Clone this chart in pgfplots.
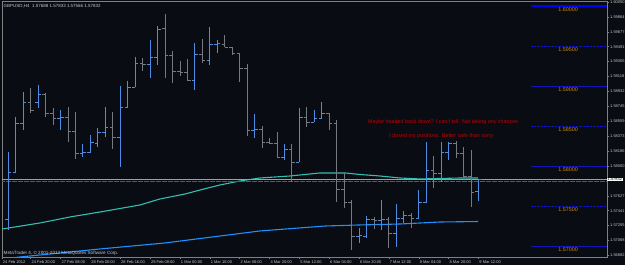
\documentclass[border=0pt]{standalone}
\usepackage{pgfplots}
\pgfplotsset{compat=1.18}
\usepackage{pgfplotstable}
\usepackage{fontspec}
\setmainfont{Liberation Sans}
\definecolor{bg}{RGB}{9,12,18}
\definecolor{upc}{RGB}{78,140,228}
\definecolor{dnc}{RGB}{118,122,128}
\definecolor{maA}{RGB}{52,190,176}
\definecolor{maB}{RGB}{30,144,255}
\definecolor{lvl}{RGB}{20,20,190}
\definecolor{lvlb}{RGB}{0,0,255}
\definecolor{orng}{RGB}{204,136,20}
\definecolor{txt}{RGB}{200,200,200}
\definecolor{redt}{RGB}{200,0,0}
\definecolor{frm}{RGB}{128,128,128}

\pgfplotstableread{
x o h l c
0 1.57338 1.58175 1.57200 1.57925
1 1.57925 1.58613 1.57925 1.58538
2 1.58538 1.58925 1.58450 1.58800
4 1.58800 1.59013 1.58725 1.58900
7 1.58600 1.58700 1.58450 1.58613
10 1.58163 1.58275 1.58113 1.58175
11 1.58175 1.58388 1.58163 1.58300
12 1.58288 1.58475 1.58238 1.58425
13 1.58425 1.58738 1.58363 1.58488
15 1.58363 1.59000 1.57988 1.58738
16 1.58738 1.59063 1.58725 1.58988
17 1.58988 1.59363 1.58988 1.59288
19 1.59275 1.59575 1.59100 1.59363
20 1.59363 1.59750 1.59263 1.59713
25 1.59075 1.59538 1.58950 1.59400
27 1.59325 1.59738 1.59263 1.59525
28 1.59525 1.59575 1.59413 1.59531
33 1.58450 1.58650 1.58350 1.58463
37 1.58113 1.58275 1.58075 1.58213
39 1.58050 1.58725 1.58050 1.58613
41 1.58550 1.58700 1.58550 1.58600
42 1.58600 1.58800 1.58600 1.58663
47 1.57125 1.57225 1.57038 1.57131
48 1.57125 1.57375 1.57100 1.57338
50 1.57325 1.57575 1.57200 1.57338
52 1.57163 1.57525 1.56988 1.57350
53 1.57350 1.57438 1.57288 1.57388
55 1.57350 1.57700 1.57350 1.57550
56 1.57550 1.58300 1.57538 1.57950
58 1.57913 1.58300 1.57800 1.58175
59 1.58175 1.58300 1.58075 1.58288
63 1.57688 1.57833 1.57566 1.57832
}\upbars

\pgfplotstableread{
x o h l c
3 1.58800 1.58975 1.58663 1.58700
5 1.58900 1.58913 1.58613 1.58663
6 1.58663 1.58725 1.58513 1.58600
8 1.58613 1.58738 1.58300 1.58438
9 1.58438 1.58675 1.58088 1.58163
14 1.58488 1.58675 1.58213 1.58363
18 1.59288 1.59350 1.59188 1.59275
21 1.59725 1.59900 1.59100 1.59388
22 1.59388 1.59438 1.59038 1.59188
23 1.59188 1.59313 1.59125 1.59175
24 1.59175 1.59338 1.59063 1.59075
26 1.59400 1.59588 1.59288 1.59325
29 1.59525 1.59638 1.59488 1.59488
30 1.59488 1.59488 1.59388 1.59413
31 1.59413 1.59413 1.59050 1.59225
32 1.59225 1.59275 1.58375 1.58450
34 1.58463 1.58500 1.58225 1.58300
35 1.58300 1.58350 1.58275 1.58288
36 1.58288 1.58425 1.58113 1.58113
38 1.58213 1.58275 1.57800 1.58050
40 1.58613 1.58738 1.58488 1.58550
43 1.58663 1.58663 1.58450 1.58538
44 1.58538 1.58575 1.57550 1.57713
45 1.57713 1.57913 1.57475 1.57550
46 1.57550 1.57575 1.56950 1.57125
49 1.57338 1.57363 1.57213 1.57325
51 1.57338 1.57363 1.56975 1.57163
54 1.57388 1.57413 1.57225 1.57350
57 1.57950 1.58125 1.57725 1.57913
60 1.58288 1.58313 1.58100 1.58163
61 1.58163 1.58238 1.57863 1.57875
62 1.57875 1.58200 1.57488 1.57675
}\dnbars

\pgfplotstableread{
x y
-0.84 1.57212
4.25 1.57288
8.27 1.57363
12.3 1.57425
17.65 1.57513
20.33 1.57588
23.68 1.57650
25.69 1.57700
28.37 1.57763
31.05 1.57813
33.72 1.57850
37.74 1.57875
41.77 1.57913
45.12 1.57913
47.12 1.57894
49.8 1.57875
52.49 1.57850
55.17 1.57838
57.85 1.57844
60.53 1.57850
62.94 1.57850
}\maslow

\pgfplotstableread{
x y
-0.04 1.56844
1.57 1.56863
2.91 1.56875
6.93 1.56913
12.3 1.56963
21.0 1.57038
28.37 1.57125
33.72 1.57188
42.44 1.57250
47.12 1.57263
52.49 1.57275
57.85 1.57300
62.94 1.57306
}\mabig

\newcommand{\tinyf}{\fontsize{4}{4.8}\selectfont}

\begin{document}
\begin{tikzpicture}
\useasboundingbox (-2bp,-8bp) rectangle (623bp,257bp);
\fill[bg] (-2bp,-8bp) rectangle (623bp,257bp);
\begin{axis}[
  scale only axis, width=605bp, height=256bp,
  at={(0,0)}, anchor=south west,
  xmin=-0.844, xmax=80.22, ymin=1.568625, ymax=1.600625,
  clip mode=individual,
  axis line style={frm, line width=0.6bp},
  tick align=outside, major tick length=2bp,
  tick style={frm, line width=0.5bp},
  xtick pos=left, ytick pos=right, yticklabel pos=right,
  xtick={-0.844,3,7,11,15,19,23,27,31,35,39,43,47,51,55,59,63},
  xticklabels={24 Feb 2012,24 Feb 20:00,27 Feb 08:00,28 Feb 00:00,28 Feb 16:00,29 Feb 08:00,1 Mar 00:00,1 Mar 16:00,2 Mar 08:00,4 Mar 20:00,5 Mar 12:00,6 Mar 04:00,6 Mar 20:00,7 Mar 12:00,8 Mar 04:00,8 Mar 20:00,9 Mar 12:00},
  xticklabel style={anchor=north west, inner sep=0pt, xshift=0.8bp, yshift=-1.6bp, font=\tinyf, text=txt},
  ytick={1.56882,1.57068,1.57255,1.57441,1.57627,1.58000,1.58186,1.58373,1.58559,1.58745,1.58932,1.59118,1.59305,1.59491,1.59677,1.59864,1.60050},
  yticklabels={1.56882,1.57068,1.57255,1.57441,1.57627,1.58000,1.58186,1.58373,1.58559,1.58745,1.58932,1.59118,1.59305,1.59491,1.59677,1.59864,1.60050},
  yticklabel style={anchor=west, inner sep=0pt, xshift=1bp, font=\tinyf, text=txt},
  ohlc/.style={draw=none, mark=none, error bars/error mark=none, error bars/error bar style={draw=#1, line width=0.9bp}},
]
% moving averages
\addplot[maB, line width=1.1bp] table {\mabig};
\addplot[maA, line width=1.1bp] table {\maslow};
% bid lines
\addplot[txt!80!black, line width=0.6bp] coordinates {(-0.844,1.57832) (80.22,1.57832)};
\addplot[frm!70!black, line width=0.5bp, dash pattern=on 0.6bp off 0.6bp] coordinates {(-0.844,1.57807) (80.22,1.57807)};
% up bars
\addplot[ohlc=upc, error bars/y dir=minus, error bars/y explicit]
  table[x=x, y=h, y error expr=\thisrow{h}-\thisrow{l}] {\upbars};
\addplot[ohlc=upc, error bars/x dir=minus, error bars/x fixed=0.42]
  table[x=x, y=o] {\upbars};
\addplot[ohlc=upc, error bars/x dir=plus, error bars/x fixed=0.42]
  table[x=x, y=c] {\upbars};
% down bars
\addplot[ohlc=dnc, error bars/y dir=minus, error bars/y explicit]
  table[x=x, y=h, y error expr=\thisrow{h}-\thisrow{l}] {\dnbars};
\addplot[ohlc=dnc, error bars/x dir=minus, error bars/x fixed=0.42]
  table[x=x, y=o] {\dnbars};
\addplot[ohlc=dnc, error bars/x dir=plus, error bars/x fixed=0.42]
  table[x=x, y=c] {\dnbars};
% price levels
\addplot[lvlb, line width=1.6bp] coordinates {(70.04,1.60000) (80.22,1.60000)};
\addplot[lvl, line width=0.6bp, dash pattern=on 0.5bp off 0.9bp] coordinates {(70.04,1.59500) (80.22,1.59500)};
\addplot[lvl, line width=0.8bp] coordinates {(70.04,1.59000) (80.22,1.59000)};
\addplot[lvl, line width=0.6bp, dash pattern=on 0.5bp off 0.9bp] coordinates {(70.04,1.58500) (80.22,1.58500)};
\addplot[lvl, line width=0.8bp] coordinates {(70.04,1.58000) (80.22,1.58000)};
\addplot[lvl, line width=0.6bp, dash pattern=on 0.5bp off 0.9bp] coordinates {(70.04,1.57500) (80.22,1.57500)};
\addplot[lvl, line width=0.8bp] coordinates {(70.04,1.57000) (80.22,1.57000)};
\foreach \v/\t in {1.60000/1.60000,1.59500/1.59500,1.59000/1.59000,1.58500/1.58500,1.58000/1.58000,1.57500/1.57500,1.57000/1.57000}{
  \edef\tmp{\noexpand\node[text=orng, font=\noexpand\fontsize{5.4}{6}\noexpand\selectfont, inner sep=0pt] at (axis cs:75,\v-0.0005) {\t};}\tmp
}
% texts
\node[anchor=west, text=txt, inner sep=0pt, font=\fontsize{4.5}{5}\selectfont] at (rel axis cs:0.0025,0.9805) {GBPUSD,H4\ \ 1.57688 1.57833 1.57566 1.57832};
\node[anchor=west, text=txt, inner sep=0pt, font=\fontsize{4.6}{5}\selectfont] at (rel axis cs:0.0025,0.0156) {MetaTrader 4, © 2001-2012 MetaQuotes Software Corp.};
\node[text=redt, inner sep=0pt, font=\fontsize{5.4}{6}\selectfont] at (axis cs:58.25,1.58550) {Maybe headed back down? I can't tell. Not taking any chances};
\node[text=redt, inner sep=0pt, font=\fontsize{5.4}{6}\selectfont] at (axis cs:57.97,1.58375) {I closed my positions. Better safe than sorry};
\node[anchor=west, fill=white, text=black, inner sep=0.5bp, font=\tinyf] at (axis cs:80.22,1.57832) {1.57832};
\end{axis}
\end{tikzpicture}
\end{document}
